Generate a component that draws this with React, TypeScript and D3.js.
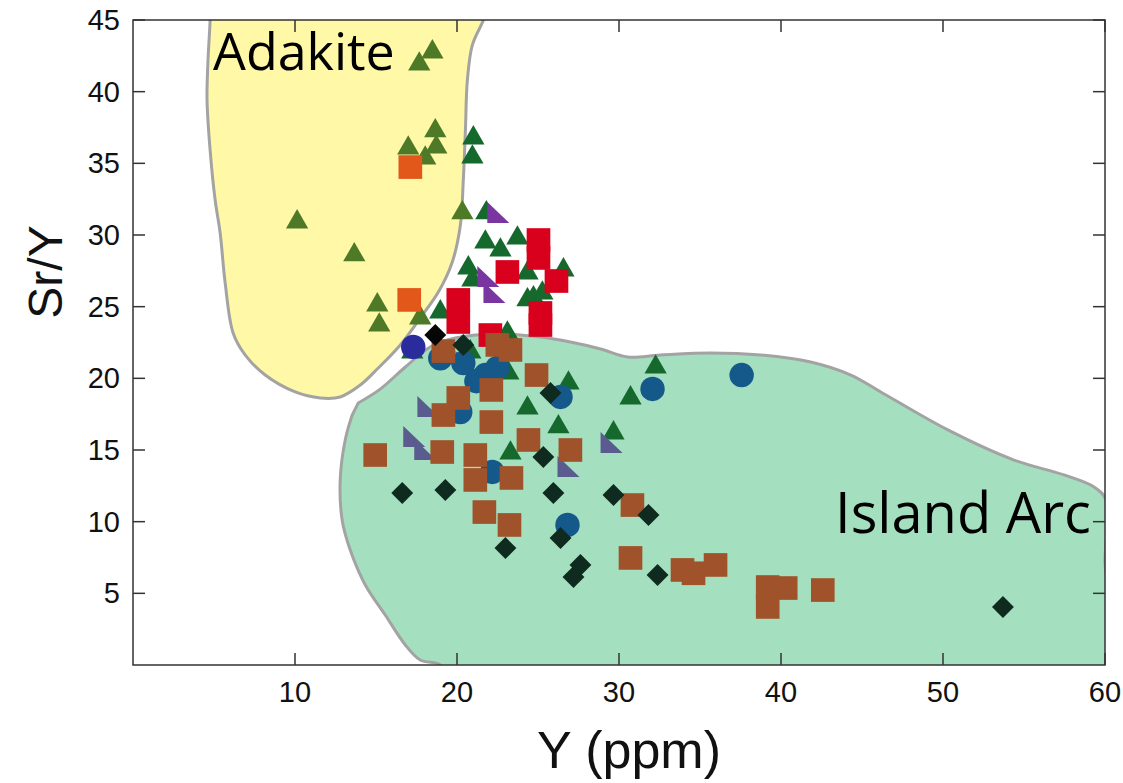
import React from "react";
import * as d3 from "d3";

const W = 1123, H = 783;
const X_DOMAIN = [0, 60];
const Y_DOMAIN = [0, 45];
const X_TICKS = [10, 20, 30, 40, 50, 60];
const Y_TICKS = [5, 10, 15, 20, 25, 30, 35, 40, 45];

// Field outlines (data units)
const ADAKITE_FIELD: [number, number][] = [
  [4.76, 46], [4.76, 45.0], [4.63, 42.21], [4.57, 39.42], [4.76, 35.93], [5.07, 32.44], [5.38, 30.14],
  [5.69, 26.65], [6.18, 23.16], [6.92, 21.63], [8.16, 20.23], [10.01, 19.05], [11.56, 18.63],
  [12.79, 18.7], [14.03, 19.53], [15.14, 20.72], [16.5, 22.33], [17.73, 24.21], [18.85, 26.02],
  [19.71, 28.12], [20.21, 30.7], [20.39, 33.84], [20.52, 37.33], [20.64, 40.81], [20.95, 43.26],
  [21.63, 45.0], [21.9, 46],
];
const ISLAND_ARC_FIELD: [number, number][] = [
  [13.9, 18.28], [15.26, 19.25], [16.81, 20.79], [18.35, 22.19], [19.9, 22.81], [22.68, 23.09],
  [25.15, 22.88], [27.0, 22.53], [28.86, 22.05], [30.53, 21.49], [32.56, 21.63], [35.65, 21.77],
  [38.74, 21.63], [41.83, 21.14], [44.31, 20.23], [46.16, 19.05], [50.3, 16.4], [54.38, 14.3],
  [57.47, 13.26], [59.32, 12.42], [60.06, 11.51], [60.0, 7.33], [59.88, -1], [18.97, -1],
  [18.97, 0], [17.73, 0.35], [16.81, 1.4], [15.57, 3.49], [14.34, 5.58], [13.41, 8.02],
  [12.91, 10.12], [12.79, 12.91], [13.1, 15.7], [13.53, 17.44],
];

// Sample series: [Y ppm, Sr/Y]
const OLIVE_TRIANGLES: [number, number][] = [
  [10.13, 30.91], [13.66, 28.61], [15.08, 25.12], [15.2, 23.72], [17.67, 41.93], [18.48, 42.77],
  [16.99, 36.07], [18.04, 35.37], [18.66, 37.26], [18.72, 36.14], [20.33, 31.54], [17.73, 24.21],
];
const GREEN_TRIANGLES: [number, number][] = [
  [21.01, 36.77], [20.95, 35.44], [21.81, 31.54], [21.75, 29.51], [23.73, 29.79], [22.68, 28.95],
  [20.7, 27.7], [20.95, 26.86], [26.57, 27.56], [24.35, 27.35], [24.72, 25.61], [25.27, 25.95],
  [24.35, 25.47], [23.11, 23.16], [20.82, 21.84], [23.17, 20.37], [26.88, 19.67], [24.35, 17.93],
  [26.26, 16.61], [23.3, 14.79], [32.26, 20.79], [30.71, 18.63], [29.66, 16.19], [18.97, 24.63],
  [17.24, 21.84],
];
const PURPLE_WEDGES: [number, number][] = [[22.49, 31.54], [21.87, 27.07], [22.25, 25.95]];
const SLATE_WEDGES: [number, number][] = [
  [20.52, 21.14], [18.17, 18.0], [17.3, 15.91], [17.98, 15.0], [26.82, 13.81], [29.48, 15.49],
];
const BLUE_CIRCLES: [number, number][] = [
  [18.97, 21.4], [20.39, 21.07], [21.75, 20.23], [22.49, 20.72], [20.2, 17.65], [26.39, 18.7],
  [32.07, 19.26], [37.57, 20.23], [26.82, 9.77], [22.18, 13.47], [21.2, 19.8],
];
const NAVY_CIRCLES: [number, number][] = [[17.3, 22.19]];
const RED_SQUARES: [number, number][] = [
  [25.03, 29.65], [25.03, 28.4], [23.11, 27.42], [26.14, 26.79], [20.08, 25.47], [20.08, 23.93],
  [25.15, 24.56], [25.15, 23.72], [22.06, 23.02],
];
const ORANGE_SQUARES: [number, number][] = [[17.12, 34.74], [17.05, 25.47]];
const BROWN_SQUARES: [number, number][] = [
  [14.95, 14.65], [19.16, 21.9], [19.16, 17.44], [20.08, 18.63], [19.09, 14.86], [21.13, 14.65],
  [21.13, 12.91], [21.69, 10.67], [23.24, 9.77], [23.36, 13.05], [22.12, 19.19], [22.12, 16.95],
  [23.3, 21.98], [24.41, 15.7], [24.91, 20.23], [27.0, 15.0], [22.49, 22.33], [30.83, 11.16],
  [30.71, 7.47], [33.92, 6.63], [35.96, 6.98], [34.6, 6.4], [39.18, 5.44], [40.29, 5.37],
  [39.18, 4.05], [42.58, 5.23],
];
const BLACK_DIAMONDS: [number, number][] = [[18.66, 23.02]];
const DARK_DIAMONDS: [number, number][] = [
  [20.39, 22.33], [25.77, 18.98], [25.33, 14.51], [16.62, 12.0], [19.28, 12.21], [25.95, 12.0],
  [29.66, 11.86], [26.39, 8.86], [22.99, 8.16], [27.19, 6.14], [27.62, 6.98], [31.82, 10.47],
  [32.38, 6.28], [53.7, 4.05],
];

const x = d3.scaleLinear().domain(X_DOMAIN).range([133, 1105]);
const y = d3.scaleLinear().domain(Y_DOMAIN).range([665, 20]);

const triPath = d3.symbol().type(d3.symbolTriangle).size(215)()!;
const sqPath = d3.symbol().type(d3.symbolSquare).size(560)()!;
const sqSmall = d3.symbol().type(d3.symbolSquare).size(240)()!;
const circPath = d3.symbol().type(d3.symbolCircle).size(470)()!;
const wedgePath = d3.line()([[-10, -11], [-10, 10], [12, 10]]) + "Z";

const area = d3.line<[number, number]>().x((d) => x(d[0])).y((d) => y(d[1])).curve(d3.curveCatmullRom.alpha(0.5));

function Markers({ data, path, fill, rotate = 0 }: { data: [number, number][]; path: string; fill: string; rotate?: number }) {
  return (
    <g>
      {data.map((d, i) => (
        <path key={i} d={path} fill={fill} transform={`translate(${x(d[0])},${y(d[1])}) rotate(${rotate})`} />
      ))}
    </g>
  );
}

export default function App() {
  const x0 = x(X_DOMAIN[0]), x1 = x(X_DOMAIN[1]);
  const y0 = y(Y_DOMAIN[0]), y1 = y(Y_DOMAIN[1]);
  const axisColor = "#333";
  const font = "'Liberation Sans', Arial, sans-serif";
  return (
    <svg width={W} height={H} style={{ position: "absolute", left: 0, top: 0, background: "#fff" }}>
      <defs>
        <clipPath id="plot">
          <rect x={x0} y={y1} width={x1 - x0} height={y0 - y1} />
        </clipPath>
      </defs>
      <g clipPath="url(#plot)">
        <path d={area(ADAKITE_FIELD)! + "Z"} fill="#fff8a6" stroke="#a3a3a3" strokeWidth={3} />
        <path d={area(ISLAND_ARC_FIELD)! + "Z"} fill="#a4e0c0" stroke="#a3a3a3" strokeWidth={3} />
      </g>
      <text x={213} y={70} fontFamily="'Open Sans', 'Noto Sans', sans-serif" fontSize={52} fill="#000">Adakite</text>
      <text x={835} y={533} fontFamily="'Open Sans', 'Noto Sans', sans-serif" fontSize={56} fill="#000">Island Arc</text>

      <g clipPath="url(#plot)">
        <Markers data={OLIVE_TRIANGLES} path={triPath} fill="#4e7a27" />
        <Markers data={GREEN_TRIANGLES} path={triPath} fill="#16692d" />
        <Markers data={PURPLE_WEDGES} path={wedgePath} fill="#7a36a0" />
        <Markers data={SLATE_WEDGES} path={wedgePath} fill="#5a5b8e" />
        <Markers data={BLUE_CIRCLES} path={circPath} fill="#15598b" />
        <Markers data={NAVY_CIRCLES} path={circPath} fill="#2a2b9c" />
        <Markers data={RED_SQUARES} path={sqPath} fill="#d8001c" />
        <Markers data={ORANGE_SQUARES} path={sqPath} fill="#e2581b" />
        <Markers data={BROWN_SQUARES} path={sqPath} fill="#a0532a" />
        <Markers data={BLACK_DIAMONDS} path={sqSmall} fill="#060606" rotate={45} />
        <Markers data={DARK_DIAMONDS} path={sqSmall} fill="#0f2a1e" rotate={45} />
      </g>

      {/* frame */}
      <rect x={x0} y={y1} width={x1 - x0} height={y0 - y1} fill="none" stroke={axisColor} strokeWidth={1.5} />
      {X_TICKS.map((t) => (
        <g key={"x" + t}>
          <line x1={x(t)} x2={x(t)} y1={y0} y2={y0 - 12} stroke={axisColor} strokeWidth={1.5} />
          <line x1={x(t)} x2={x(t)} y1={y1} y2={y1 + 12} stroke={axisColor} strokeWidth={1.5} />
          <text x={x(t)} y={y0 + 37} textAnchor="middle" fontFamily={font} fontSize={29} fill="#111">{t}</text>
        </g>
      ))}
      {Y_TICKS.map((t) => (
        <g key={"y" + t}>
          <line x1={x0} x2={x0 + 12} y1={y(t)} y2={y(t)} stroke={axisColor} strokeWidth={1.5} />
          <line x1={x1} x2={x1 - 12} y1={y(t)} y2={y(t)} stroke={axisColor} strokeWidth={1.5} />
          <text x={120} y={y(t) + 10} textAnchor="end" fontFamily={font} fontSize={29} fill="#111">{t}</text>
        </g>
      ))}
      <text x={(x0 + x1) / 2 + 10} y={768} textAnchor="middle" fontFamily={font} fontSize={52} fill="#111">Y (ppm)</text>
      <text transform={`translate(62, ${272}) rotate(-90)`} textAnchor="middle" fontFamily={font} fontSize={48} fill="#111">Sr/Y</text>
    </svg>
  );
}
